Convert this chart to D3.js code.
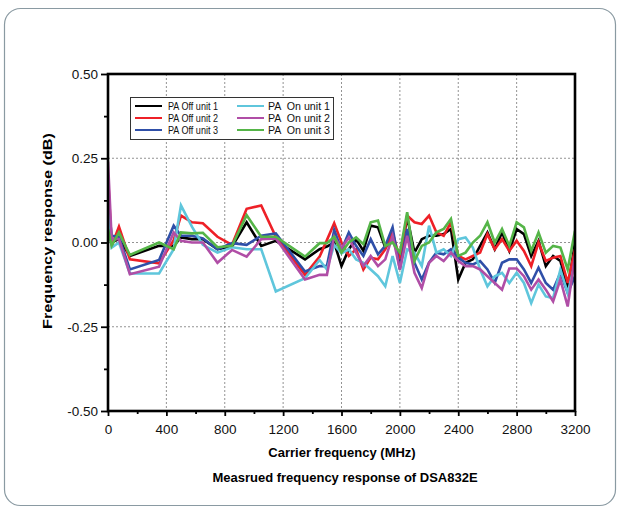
<!DOCTYPE html>
<meta charset="utf-8">
<script src="https://d3js.org/d3.v7.min.js"></script>
<style>
  body { margin: 0; background: #fff; }
  text { font-family: "Liberation Sans", Arial, sans-serif; }
</style>
<div id="chart"></div>
<script>
// Frequencies (MHz)
var freqs = [0, 25, 75, 150, 350, 450, 500, 575, 650, 750, 850, 950, 1050, 1150, 1350,
  1450, 1500, 1550, 1600, 1650, 1700, 1750, 1800, 1850, 1900, 1950, 2000, 2050, 2100,
  2150, 2200, 2250, 2300, 2350, 2400, 2450, 2500, 2550, 2600, 2650, 2700, 2750, 2800,
  2850, 2900, 2950, 3000, 3050, 3100, 3150, 3200];

// Frequency response (dB) per unit
var offUnit1 = [0.03, 0.0, 0.01, -0.04, -0.01, -0.01, 0.015, 0.01, 0.01, -0.02, -0.012, 0.06, -0.01, 0.005, -0.05,
  -0.02, -0.012, 0.0, -0.07, -0.02, 0.01, -0.025, 0.05, 0.045, -0.015, 0.01, -0.05, 0.075, -0.03,
  0.01, 0.02, 0.02, 0.025, 0.04, -0.11, -0.06, -0.05, -0.01, 0.03, -0.02, 0.03, -0.025, 0.04,
  0.025, -0.04, 0.005, -0.07, -0.04, -0.055, -0.14, 0.0];
var offUnit2 = [0.2, -0.01, 0.047, -0.05, -0.062, 0.007, 0.08, 0.06, 0.057, 0.017, -0.007, 0.1, 0.11, 0.017, -0.096,
  -0.042, 0.007, 0.057, 0.0, -0.04, -0.02, -0.08, -0.045, -0.05, -0.02, 0.03, -0.05, 0.08, 0.06,
  0.055, 0.08, 0.03, 0.02, 0.06, -0.04, -0.05, -0.04, -0.03, 0.025, -0.02, 0.01, -0.025, 0.005,
  -0.025, -0.07, 0.0, -0.055, -0.045, -0.04, -0.12, -0.02];
var offUnit3 = [0.13, 0.02, 0.017, -0.08, -0.052, 0.05, 0.02, 0.02, 0.012, -0.02, -0.002, -0.007, 0.02, 0.027, -0.086,
  -0.07, -0.07, 0.037, -0.022, 0.03, -0.01, -0.04, 0.01, -0.035, -0.01, 0.045, -0.08, 0.04, -0.06,
  -0.11, -0.06, -0.03, -0.035, -0.02, -0.045, -0.06, -0.065, -0.055, -0.08, -0.12, -0.06, -0.05, -0.05,
  -0.08, -0.12, -0.075, -0.12, -0.14, -0.09, -0.15, -0.1];
var onUnit1 = [0.1, -0.015, 0.0, -0.092, -0.092, -0.02, 0.11, 0.047, -0.007, -0.03, -0.014, -0.02, -0.02, -0.145, -0.106,
  -0.052, -0.08, -0.007, -0.032, -0.02, -0.05, -0.06, -0.08, -0.1, -0.13, -0.04, -0.12, -0.02, -0.03,
  -0.07, 0.05, -0.03, -0.02, -0.04, 0.01, 0.015, -0.015, -0.08, -0.13, -0.1, -0.09, -0.12, -0.09,
  -0.12, -0.18, -0.125, -0.16, -0.165, -0.08, -0.15, -0.06];
var onUnit2 = [0.24, 0.01, 0.01, -0.094, -0.072, 0.03, 0.005, 0.0, 0.0, -0.06, -0.022, -0.042, 0.01, 0.012, -0.11,
  -0.096, -0.096, 0.017, -0.017, 0.015, -0.03, -0.07, -0.04, -0.07, -0.05, 0.02, -0.08, 0.02, -0.09,
  -0.135, -0.06, -0.04, -0.055, -0.03, -0.055, -0.07, -0.07, -0.08, -0.1, -0.12, -0.14, -0.077, -0.077,
  -0.1, -0.14, -0.11, -0.14, -0.175, -0.11, -0.19, -0.04];
var onUnit3 = [0.04, -0.01, 0.03, -0.037, 0.0, -0.02, 0.03, 0.027, 0.029, -0.014, -0.01, 0.081, 0.017, 0.017, -0.042,
  -0.002, -0.002, 0.017, -0.03, 0.0, 0.015, -0.005, 0.06, 0.065, -0.01, 0.0, -0.03, 0.09, -0.055,
  -0.01, 0.0, 0.03, 0.04, 0.07, -0.04, -0.03, 0.0, 0.02, 0.06, 0.0, 0.04, -0.01, 0.06,
  0.045, -0.025, 0.03, -0.03, -0.01, -0.015, -0.08, 0.035];

var seriesNames = ["PA Off unit 1", "PA Off unit 2", "PA Off unit 3", "PA  On unit 1", "PA  On unit 2", "PA  On unit 3"];
var seriesColors = ["#000000", "#ee2027", "#2f4fa8", "#5fc6dc", "#b04ea6", "#55b548"];
var seriesValues = [offUnit1, offUnit2, offUnit3, onUnit1, onUnit2, onUnit3];

var xTicks = [0, 400, 800, 1200, 1600, 2000, 2400, 2800, 3200];
var xMinorTicks = [200, 600, 1000, 1400, 1800, 2200, 2600, 3000];
var yTicks = [-0.5, -0.25, 0, 0.25, 0.5];
var yTickLabels = ["-0.50", "-0.25", "0.00", "0.25", "0.50"];
var yMinorTicks = [-0.375, -0.125, 0.125, 0.375];

var W = 618, H = 510;
var pLeft = 108, pRight = 575, pTop = 74, pBottom = 411;

var svg = d3.select("#chart").append("svg")
  .attr("width", W)
  .attr("height", H);

// rounded frame round the figure
svg.append("rect")
  .attr("x", 4.5).attr("y", 8.5)
  .attr("width", 611).attr("height", 497)
  .attr("rx", 16)
  .attr("fill", "none")
  .attr("stroke", "#8a9aa2")
  .attr("stroke-width", 1.2);

var x = d3.scaleLinear().domain([0, 3200]).range([pLeft, pRight]);
var y = d3.scaleLinear().domain([-0.5, 0.5]).range([pBottom, pTop]);

// grid
svg.append("g").selectAll("line")
  .data(xTicks.slice(1, -1))
  .enter().append("line")
    .attr("x1", d => x(d)).attr("x2", d => x(d))
    .attr("y1", pTop).attr("y2", pBottom)
    .attr("stroke", "#777").attr("stroke-width", 0.8)
    .attr("stroke-dasharray", "2,2");
svg.append("g").selectAll("line")
  .data(yTicks.slice(1, -1))
  .enter().append("line")
    .attr("x1", pLeft).attr("x2", pRight)
    .attr("y1", d => y(d)).attr("y2", d => y(d))
    .attr("stroke", "#777").attr("stroke-width", 0.8)
    .attr("stroke-dasharray", "2,2");

// series
var line = d3.line()
  .x((d, i) => x(freqs[i]))
  .y(d => y(d));

svg.append("clipPath").attr("id", "plotclip")
  .append("rect").attr("x", pLeft).attr("y", pTop)
  .attr("width", pRight - pLeft).attr("height", pBottom - pTop);

svg.append("g").attr("clip-path", "url(#plotclip)")
  .selectAll("path")
  .data(seriesValues)
  .enter().append("path")
    .attr("fill", "none")
    .attr("stroke", (d, i) => seriesColors[i])
    .attr("stroke-width", 2.6)
    .attr("stroke-linejoin", "miter")
    .attr("d", line);

// axes
var xAxis = svg.append("g")
  .attr("transform", "translate(0," + pBottom + ")")
  .call(d3.axisBottom(x).tickValues(xTicks).tickSize(5).tickPadding(8).tickFormat(d3.format("d")));
var xMinor = svg.append("g")
  .attr("transform", "translate(0," + pBottom + ")")
  .call(d3.axisBottom(x).tickValues(xMinorTicks).tickSize(3).tickFormat(""));
var yAxis = svg.append("g")
  .attr("transform", "translate(" + pLeft + ",0)")
  .call(d3.axisLeft(y).tickValues(yTicks).tickSize(7).tickPadding(3)
    .tickFormat((d, i) => yTickLabels[i]));
var yMinor = svg.append("g")
  .attr("transform", "translate(" + pLeft + ",0)")
  .call(d3.axisLeft(y).tickValues(yMinorTicks).tickSize(4).tickFormat(""));

[xAxis, xMinor, yAxis, yMinor].forEach(function(g) {
  g.select(".domain").remove();
  g.selectAll("line").attr("stroke", "#000").attr("stroke-width", 1.8);
  g.selectAll("text").attr("font-size", 13.5).attr("fill", "#111")
    .style("font-family", "'Liberation Sans', Arial, sans-serif");
});

// plot box
svg.append("rect")
  .attr("x", pLeft).attr("y", pTop)
  .attr("width", pRight - pLeft).attr("height", pBottom - pTop)
  .attr("fill", "none")
  .attr("stroke", "#000")
  .attr("stroke-width", 2.6);

// titles
svg.append("text")
  .attr("x", 342).attr("y", 457)
  .attr("text-anchor", "middle")
  .attr("font-size", 13).attr("font-weight", "bold")
  .text("Carrier frequency (MHz)");
svg.append("text")
  .attr("x", 345).attr("y", 482)
  .attr("text-anchor", "middle")
  .attr("font-size", 13).attr("font-weight", "bold")
  .text("Measrued frequency response of DSA832E");
svg.append("text")
  .attr("transform", "translate(52,231) rotate(-90)")
  .attr("text-anchor", "middle")
  .attr("font-size", 13.5).attr("font-weight", "bold")
  .attr("textLength", 196).attr("lengthAdjust", "spacingAndGlyphs")
  .text("Frequency response (dB)");

// legend
var legend = svg.append("g");
legend.append("rect")
  .attr("x", 130.5).attr("y", 97.5)
  .attr("width", 203).attr("height", 42)
  .attr("fill", "#fff")
  .attr("stroke", "#333").attr("stroke-width", 1);
seriesNames.forEach(function(name, i) {
  var col = Math.floor(i / 3), row = i % 3;
  var lx = col ? 237 : 135, ty = 106 + row * 12;
  legend.append("line")
    .attr("x1", lx).attr("x2", lx + 27)
    .attr("y1", ty).attr("y2", ty)
    .attr("stroke", seriesColors[i]).attr("stroke-width", 2);
  legend.append("text")
    .attr("x", col ? 268 : 168).attr("y", ty + 4)
    .attr("font-size", 11.5).attr("fill", "#111")
    .attr("textLength", col ? 62 : 50).attr("lengthAdjust", "spacingAndGlyphs")
    .style("white-space", "pre")
    .text(name);
});
</script>
